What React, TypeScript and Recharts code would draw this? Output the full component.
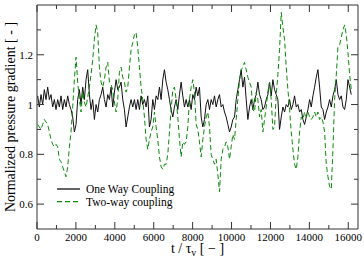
import React from 'react';
import { LineChart, Line, XAxis, YAxis, ReferenceArea, Legend, Label } from 'recharts';

// time t / tau_v of each sample
const time = [
  34, 120, 206, 292, 377, 463, 549, 635, 720, 806, 892, 978,
  1063, 1149, 1235, 1321, 1406, 1492, 1578, 1664, 1749, 1835, 1921, 2007,
  2092, 2178, 2264, 2350, 2435, 2521, 2607, 2693, 2778, 2864, 2950, 3036,
  3121, 3207, 3293, 3379, 3464, 3550, 3636, 3722, 3807, 3893, 3979, 4065,
  4150, 4236, 4322, 4408, 4493, 4579, 4665, 4751, 4836, 4922, 5008, 5094,
  5179, 5265, 5351, 5437, 5522, 5608, 5694, 5780, 5865, 5951, 6037, 6123,
  6208, 6294, 6380, 6466, 6551, 6637, 6723, 6809, 6894, 6980, 7066, 7152,
  7237, 7323, 7409, 7495, 7580, 7666, 7752, 7838, 7923, 8009, 8095, 8181,
  8266, 8352, 8438, 8524, 8609, 8695, 8781, 8867, 8952, 9038, 9124, 9210,
  9295, 9381, 9467, 9553, 9638, 9724, 9810, 9896, 9981, 10067, 10153, 10239,
  10324, 10410, 10496, 10582, 10667, 10753, 10839, 10925, 11010, 11096, 11182, 11268,
  11353, 11439, 11525, 11611, 11696, 11782, 11868, 11954, 12039, 12125, 12211, 12297,
  12382, 12468, 12554, 12640, 12725, 12811, 12897, 12983, 13068, 13154, 13240, 13326,
  13411, 13497, 13583, 13669, 13754, 13840, 13926, 14012, 14097, 14183, 14269, 14355,
  14440, 14526, 14612, 14698, 14783, 14869, 14955, 15041, 15126, 15212, 15298, 15384,
  15469, 15555, 15641, 15727, 15812, 15898, 15984, 16070, 16155,
];

// One Way Coupling
const oneWay = [
  1.035, 0.99, 1.04, 1.0, 1.06, 1.02, 1.07, 1.02, 1.04, 0.99, 1.02, 0.98,
  1.02, 0.99, 1.035, 0.98, 1.02, 0.99, 1.035, 1.0, 0.98, 0.95, 0.89, 0.92,
  1.02, 1.06, 1.0, 1.07, 1.02, 1.1, 1.14, 1.04, 0.98, 1.02, 0.94, 1.0,
  0.97, 1.02, 1.04, 1.07, 1.02, 0.99, 1.04, 1.02, 1.07, 0.99, 1.05, 1.1,
  1.06, 1.07, 1.09, 1.02, 0.98, 0.91, 0.95, 0.99, 1.02, 0.99, 1.02, 0.98,
  1.02, 0.98, 1.035, 1.0, 1.02, 0.99, 1.035, 0.91, 0.94, 1.02, 0.98, 1.035,
  1.02, 1.07, 1.02, 1.1, 1.14, 1.09, 1.06, 1.02, 0.98, 0.95, 0.99, 1.02,
  0.98, 1.04, 1.09, 1.035, 0.99, 1.02, 0.99, 1.02, 0.98, 1.04, 1.02, 1.07,
  1.035, 1.07, 0.95, 0.91, 0.94, 1.0, 1.02, 0.98, 1.02, 1.0, 1.035, 0.99,
  1.02, 1.04, 0.99, 1.0, 0.97, 0.95, 0.92, 0.89, 0.91, 0.94, 0.95, 1.02,
  1.06, 1.1, 1.14, 1.07, 1.11, 1.02, 0.94, 0.99, 1.02, 0.98, 1.02, 1.04,
  1.09, 1.04, 1.02, 0.98, 0.99, 1.02, 1.04, 1.09, 1.035, 1.1, 1.06, 1.04,
  1.02, 0.9, 0.95, 0.99, 0.97, 1.0, 0.99, 1.02, 0.98, 1.0, 1.035, 0.99,
  1.0, 0.97, 0.98, 0.94, 0.92, 0.95, 0.98, 1.02, 0.99, 1.035, 1.07, 1.11,
  1.14, 1.07, 0.99, 0.98, 0.94, 0.97, 0.99, 1.02, 0.99, 1.035, 1.06, 1.1,
  1.04, 1.02, 1.035, 0.99, 0.98, 1.02, 1.1, 1.07, 1.04,
];

// Two-way coupling
const twoWay = [
  0.92, 0.91, 0.9, 0.92, 0.94, 0.93, 0.92, 0.89, 0.86, 0.84, 0.83, 0.84,
  0.83, 0.78, 0.77, 0.75, 0.73, 0.71, 0.75, 0.83, 0.89, 0.99, 1.1, 1.19,
  1.09, 1.02, 0.97, 1.05, 1.01, 0.99, 1.03, 1.07, 1.12, 1.18, 1.26, 1.32,
  1.29, 1.15, 1.09, 1.07, 1.1, 1.15, 1.17, 1.09, 1.08, 1.06, 1.01, 0.97,
  1.02, 1.13, 1.15, 1.11, 1.09, 1.05, 1.07, 1.15, 1.22, 1.25, 1.28, 1.29,
  1.23, 1.15, 1.07, 1.02, 0.95, 0.86, 0.82, 0.86, 0.89, 0.91, 0.97, 0.91,
  0.86, 0.79, 0.75, 0.74, 0.76, 0.76, 0.8, 0.89, 0.98, 1.06, 1.07, 1.02,
  0.95, 0.86, 0.79, 0.85, 0.84, 0.85, 0.91, 1.02, 1.07, 1.1, 1.05, 0.92,
  0.9, 0.85, 0.79, 0.86, 0.91, 0.95, 0.97, 0.91, 0.8, 0.78, 0.76, 0.78,
  0.72, 0.65, 0.78, 0.82, 0.83, 0.85, 0.83, 0.78, 0.83, 0.88, 0.86, 0.94,
  1.02, 1.1, 1.14, 1.15, 1.17, 1.14, 1.11, 1.09, 1.07, 0.98, 0.97, 1.05,
  1.02, 0.95, 0.98, 0.89, 0.94, 0.99, 1.05, 1.09, 1.02, 0.9, 0.91, 1.04,
  1.12, 1.22, 1.37, 1.31, 1.26, 1.15, 1.06, 0.98, 0.89, 0.82, 0.76, 0.74,
  0.79, 0.89, 0.95, 0.94, 0.97, 0.95, 0.97, 0.95, 0.94, 0.95, 0.97, 0.95,
  0.97, 0.94, 0.95, 0.93, 0.89, 0.76, 0.71, 0.67, 0.66, 0.82, 1.02, 1.12,
  1.23, 1.24, 1.27, 1.3, 1.32, 1.28, 1.21, 1.12, 1.06,
];

const xTicks = [0, 1000, 2000, 3000, 4000, 5000, 6000, 7000, 8000, 9000, 10000, 11000, 12000, 13000, 14000, 15000, 16000];
const yTicks = [0.6, 0.7, 0.8, 0.9, 1, 1.1, 1.2, 1.3];
const xDomain = [0, 16500];
const yDomain = [0.5, 1.4];
const seriesNames = { oneWay: 'One Way Coupling', twoWay: 'Two-way coupling' };

const data = time.map((t, i) => ({ t, oneWay: oneWay[i], twoWay: twoWay[i] }));

const W = 364;
const H = 260;
const Y_AXIS_W = 37;
const X_AXIS_H = 31;
const MARGIN = { top: 5, right: 6, bottom: 0, left: 0 };
const PLOT = {
  left: MARGIN.left + Y_AXIS_W,
  right: W - MARGIN.right,
  top: MARGIN.top,
  bottom: H - MARGIN.bottom - X_AXIS_H,
};
const FONT = '"Liberation Serif", "Times New Roman", serif';
const FRAME = '#333';
const STYLES: Record<string, { color: string; dash?: string; width: number }> = {
  oneWay: { color: '#111', width: 1 },
  twoWay: { color: '#0a8a0a', dash: '5 3', width: 1 },
};

function XTick(props: any) {
  const { x, payload } = props;
  const v = payload.value;
  const major = v % 2000 === 0;
  const len = major ? 7 : 4;
  return (
    <g>
      <line x1={x} x2={x} y1={PLOT.bottom} y2={PLOT.bottom - len} stroke={FRAME} strokeWidth={1} />
      <line x1={x} x2={x} y1={PLOT.top} y2={PLOT.top + len} stroke={FRAME} strokeWidth={1} />
      {major && (
        <text x={x} y={PLOT.bottom + 12} textAnchor="middle" fontSize={11} fontFamily={FONT} fill="#000">
          {v}
        </text>
      )}
    </g>
  );
}

function YTick(props: any) {
  const { y, payload } = props;
  const v = payload.value;
  const major = Math.round(v * 10) % 2 === 0;
  const len = major ? 7 : 4;
  return (
    <g>
      <line x1={PLOT.left} x2={PLOT.left + len} y1={y} y2={y} stroke={FRAME} strokeWidth={1} />
      <line x1={PLOT.right} x2={PLOT.right - len} y1={y} y2={y} stroke={FRAME} strokeWidth={1} />
      {major && (
        <text x={PLOT.left - 4} y={y + 4} textAnchor="end" fontSize={11} fontFamily={FONT} fill="#000">
          {String(v)}
        </text>
      )}
    </g>
  );
}

function LegendContent(props: any) {
  const payload = props.payload || [];
  return (
    <svg width={150} height={30} style={{ display: 'block', overflow: 'visible' }}>
      {payload.map((e: any, i: number) => {
        const key = String(e.dataKey);
        const s = STYLES[key] || { color: e.color, width: 1 };
        const y = 6 + i * 12.7;
        return (
          <g key={key}>
            <line x1={2} x2={25} y1={y} y2={y} stroke={s.color} strokeWidth={1.3} strokeDasharray={s.dash} />
            <text x={31} y={y + 4} fontSize={11.5} fontFamily={FONT} fill="#000">
              {e.value}
            </text>
          </g>
        );
      })}
    </svg>
  );
}

export default function App() {
  return (
    <div style={{ position: 'absolute', left: 0, top: 0, width: W, height: H, background: '#fff' }}>
      <LineChart width={W} height={H} data={data} margin={MARGIN}>
        <XAxis
          dataKey="t"
          type="number"
          domain={xDomain}
          ticks={xTicks}
          interval={0}
          allowDataOverflow
          axisLine={false}
          tickLine={false}
          tickSize={0}
          tickMargin={8}
          height={X_AXIS_H}
          tick={<XTick />}
        >
          <Label
            content={() => (
              <text x={(PLOT.left + PLOT.right) / 2} y={253} textAnchor="middle" fontSize={14} fontFamily={FONT} fill="#000">
                t / τ
                <tspan dy={3} fontSize={10}>v</tspan>
                <tspan dy={-3}> [ − ]</tspan>
              </text>
            )}
          />
        </XAxis>
        <YAxis
          type="number"
          domain={yDomain}
          ticks={yTicks}
          interval={0}
          allowDataOverflow
          axisLine={false}
          tickLine={false}
          tickSize={0}
          tickMargin={4}
          width={Y_AXIS_W}
          tick={<YTick />}
        >
          <Label
            content={() => (
              <text
                x={15}
                y={(PLOT.top + PLOT.bottom) / 2}
                transform={`rotate(-90, 15, ${(PLOT.top + PLOT.bottom) / 2})`}
                textAnchor="middle"
                fontSize={14}
                fontFamily={FONT}
                fill="#000"
              >
                Normalized pressure gradient [ - ]
              </text>
            )}
          />
        </YAxis>
        <ReferenceArea x1={xDomain[0]} x2={xDomain[1]} y1={yDomain[0]} y2={yDomain[1]} fill="none" stroke={FRAME} strokeWidth={1} ifOverflow="visible" />
        <Line
          dataKey="oneWay"
          name={seriesNames.oneWay}
          type="linear"
          stroke={STYLES.oneWay.color}
          strokeWidth={STYLES.oneWay.width}
          dot={false}
          isAnimationActive={false}
        />
        <Line
          dataKey="twoWay"
          name={seriesNames.twoWay}
          type="linear"
          stroke={STYLES.twoWay.color}
          strokeWidth={STYLES.twoWay.width}
          strokeDasharray={STYLES.twoWay.dash}
          dot={false}
          isAnimationActive={false}
        />
        <Legend
          layout="horizontal"
          verticalAlign="middle"
          align="center"
          content={<LegendContent />}
          wrapperStyle={{ left: 55, top: 183, width: 150, height: 30 }}
        />
      </LineChart>
    </div>
  );
}
